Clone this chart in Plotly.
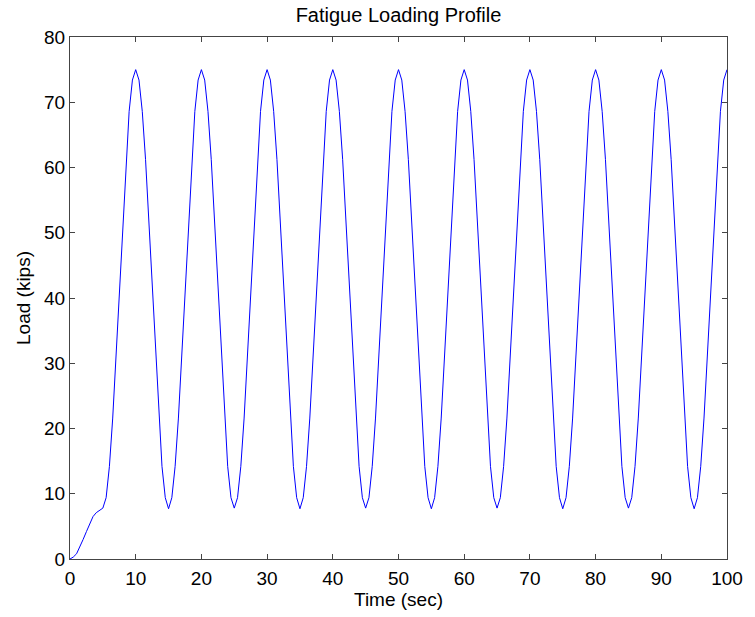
import plotly.graph_objects as go

# Load values (kips), sampled every 0.5 s from t = 0 to t = 100
ramp_load = [0.0, 0.3, 0.8, 1.8, 3.0, 4.2, 5.5, 6.5, 7.1, 7.4]
cycle_load = [
    7.8, 9.4, 14.2, 21.6, 31.0, 41.4, 51.8, 61.2, 68.6, 73.4,
    75.0, 73.4, 68.6, 61.2, 51.8, 41.4, 31.0, 21.6, 14.2, 9.4,
    7.7, 9.4, 14.2, 21.6, 31.0, 41.4, 51.8, 61.2, 68.6, 73.4,
    75.0, 73.4, 68.6, 61.2, 51.8, 41.4, 31.0, 21.6, 14.2, 9.4,
    7.8, 9.4, 14.2, 21.6, 31.0, 41.4, 51.8, 61.2, 68.6, 73.4,
    75.0, 73.4, 68.6, 61.2, 51.8, 41.4, 31.0, 21.6, 14.2, 9.4,
    7.7, 9.4, 14.2, 21.6, 31.0, 41.4, 51.8, 61.2, 68.6, 73.4,
    75.0, 73.4, 68.6, 61.2, 51.8, 41.4, 31.0, 21.6, 14.2, 9.4,
    7.8, 9.4, 14.2, 21.6, 31.0, 41.4, 51.8, 61.2, 68.6, 73.4,
    75.0, 73.4, 68.6, 61.2, 51.8, 41.4, 31.0, 21.6, 14.2, 9.4,
    7.7, 9.4, 14.2, 21.6, 31.0, 41.4, 51.8, 61.2, 68.6, 73.4,
    75.0, 73.4, 68.6, 61.2, 51.8, 41.4, 31.0, 21.6, 14.2, 9.4,
    7.8, 9.4, 14.2, 21.6, 31.0, 41.4, 51.8, 61.2, 68.6, 73.4,
    75.0, 73.4, 68.6, 61.2, 51.8, 41.4, 31.0, 21.6, 14.2, 9.4,
    7.7, 9.4, 14.2, 21.6, 31.0, 41.4, 51.8, 61.2, 68.6, 73.4,
    75.0, 73.4, 68.6, 61.2, 51.8, 41.4, 31.0, 21.6, 14.2, 9.4,
    7.8, 9.4, 14.2, 21.6, 31.0, 41.4, 51.8, 61.2, 68.6, 73.4,
    75.0, 73.4, 68.6, 61.2, 51.8, 41.4, 31.0, 21.6, 14.2, 9.4,
    7.7, 9.4, 14.2, 21.6, 31.0, 41.4, 51.8, 61.2, 68.6, 73.4,
    75.0,
]
load = ramp_load + cycle_load
time = [i * 0.5 for i in range(len(load))]

x_ticks = [0, 10, 20, 30, 40, 50, 60, 70, 80, 90, 100]
y_ticks = [0, 10, 20, 30, 40, 50, 60, 70, 80]

font_family = "Liberation Sans, Arial, sans-serif"

fig = go.Figure()
fig.add_trace(go.Scatter(
    x=time, y=load, mode="lines",
    line=dict(color="#0000ff", width=1),
    showlegend=False, hoverinfo="skip",
))

axis_common = dict(
    showline=True, linecolor="#444444", linewidth=1,
    mirror="ticks", ticks="inside", ticklen=5, tickcolor="#444444",
    showgrid=False, zeroline=False,
    tickfont=dict(family=font_family, size=19, color="black"),
)

fig.update_layout(
    width=755, height=617,
    margin=dict(l=70, r=21, t=37, b=58),
    paper_bgcolor="white", plot_bgcolor="white",
    font=dict(family=font_family, color="black"),
    title=dict(
        text="Fatigue Loading Profile",
        font=dict(family=font_family, size=20, color="black"),
        x=0.5, xanchor="center", xref="paper", y=0.975, yanchor="middle",
    ),
    xaxis=dict(
        range=[0, 100], tickvals=x_ticks, ticktext=[str(v) for v in x_ticks],
        ticklabelstandoff=2,
        title=dict(text="Time (sec)", font=dict(family=font_family, size=19), standoff=1),
        **axis_common,
    ),
    yaxis=dict(
        range=[0, 80], tickvals=y_ticks, ticktext=[str(v) for v in y_ticks],
        title=dict(text="Load (kips)", font=dict(family=font_family, size=19), standoff=8),
        **axis_common,
    ),
)

fig.write_html("out.html")
